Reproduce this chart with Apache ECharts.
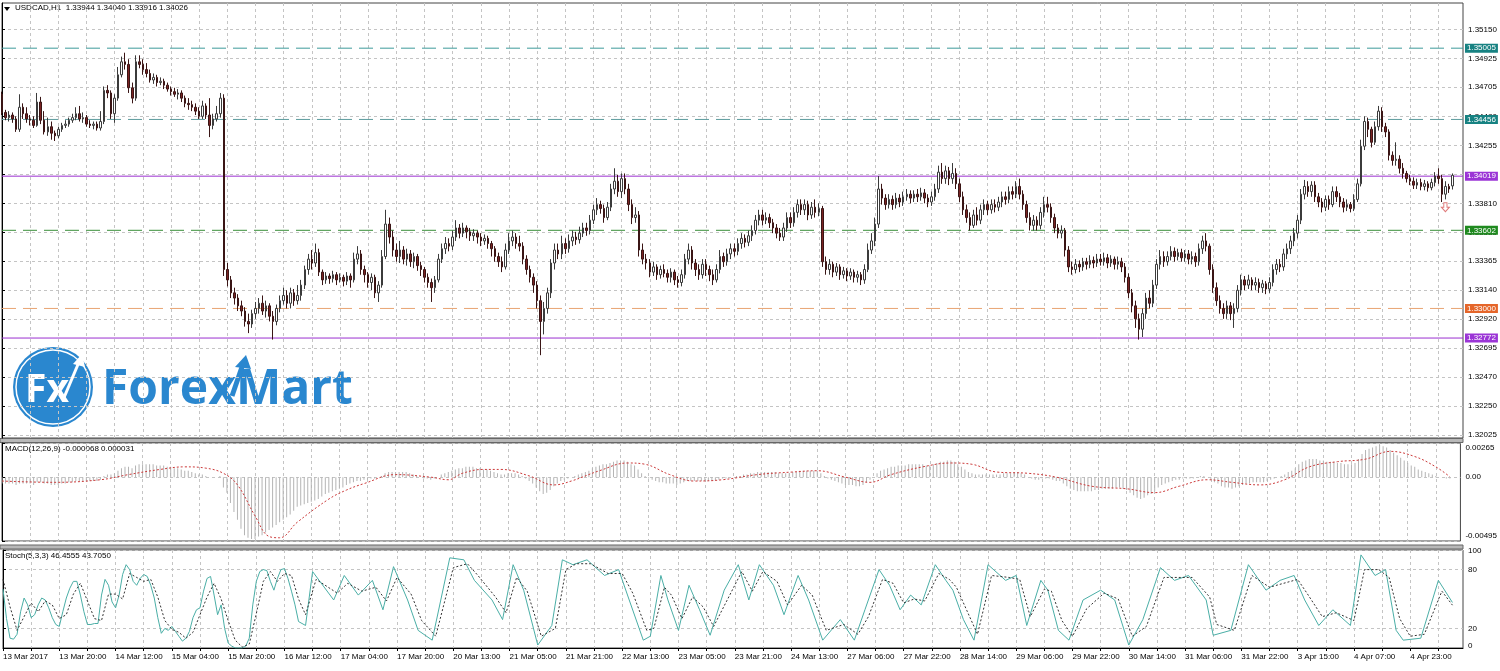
<!DOCTYPE html>
<html><head><meta charset="utf-8">
<script src="https://cdn.jsdelivr.net/npm/echarts@6/dist/echarts.min.js"></script>
<style>html,body{margin:0;padding:0;background:#fff}#c{width:1500px;height:671px}</style>
</head><body><div id="c"></div><script>
const tickLabels = ["13 Mar 2017","13 Mar 20:00","14 Mar 12:00","15 Mar 04:00","15 Mar 20:00","16 Mar 12:00","17 Mar 04:00","17 Mar 20:00","20 Mar 13:00","21 Mar 05:00","21 Mar 21:00","22 Mar 13:00","23 Mar 05:00","23 Mar 21:00","24 Mar 13:00","27 Mar 06:00","27 Mar 22:00","28 Mar 14:00","29 Mar 06:00","29 Mar 22:00","30 Mar 14:00","31 Mar 06:00","31 Mar 22:00","3 Apr 15:00","4 Apr 07:00","4 Apr 23:00"];
const priceTicks = [1.3515,1.34925,1.34705,1.3448,1.34255,1.3403,1.3381,1.33585,1.33365,1.3314,1.3292,1.32695,1.3247,1.3225,1.32025];
const macdTicks = [0.00265, 0, -0.00495];
const stochTicks = [100, 80, 20, 0];
const levelValues = [1.35005,1.34456,1.34019,1.33602,1.33000,1.32772];
const titleQuote = "USDCAD,H1  1.33944 1.34040 1.33916 1.34026";
const macdTitle = "MACD(12,26,9) -0.000068 0.000031";
const stochTitle = "Stoch(5,3,3) 46.4555 43.7050";
// [open, high, low, close] per H1 bar
const ohlc = [
[1.3465,1.3467,1.3449,1.3451],[1.3451,1.3453,1.3445,1.3447],[1.3447,1.3452,1.3444,1.3449],[1.3449,1.3451,1.3443,1.3446],[1.3446,1.3448,1.3436,1.3438],
[1.3438,1.3465,1.3436,1.3455],[1.3455,1.3458,1.3446,1.3450],[1.3450,1.3455,1.3443,1.3446],[1.3446,1.3449,1.3441,1.3445],[1.3445,1.3448,1.3439,1.3441],
[1.3441,1.3466,1.3440,1.3459],[1.3459,1.3463,1.3442,1.3445],[1.3445,1.3452,1.3434,1.3436],[1.3436,1.3447,1.3433,1.3440],[1.3440,1.3444,1.3430,1.3435],
[1.3435,1.3437,1.3429,1.3433],[1.3433,1.3440,1.3431,1.3438],[1.3438,1.3443,1.3436,1.3441],[1.3441,1.3445,1.3439,1.3442],[1.3442,1.3447,1.3440,1.3445],
[1.3445,1.3450,1.3443,1.3447],[1.3447,1.3455,1.3445,1.3450],[1.3450,1.3456,1.3444,1.3446],[1.3446,1.3451,1.3443,1.3447],[1.3447,1.3449,1.3440,1.3442],
[1.3442,1.3445,1.3439,1.3441],[1.3441,1.3444,1.3438,1.3442],[1.3442,1.3444,1.3437,1.3439],[1.3439,1.3452,1.3437,1.3444],[1.3444,1.3471,1.3442,1.3468],
[1.3468,1.3472,1.3462,1.3466],[1.3466,1.3468,1.3446,1.3450],[1.3450,1.3465,1.3443,1.3462],[1.3462,1.3486,1.3460,1.3480],[1.3480,1.3494,1.3478,1.3490],
[1.3490,1.3497,1.3484,1.3488],[1.3488,1.3492,1.3466,1.3470],[1.3470,1.3474,1.3458,1.3462],[1.3462,1.3495,1.3460,1.3490],[1.3490,1.3495,1.3485,1.3488],
[1.3488,1.3492,1.3480,1.3484],[1.3484,1.3489,1.3478,1.3481],[1.3481,1.3484,1.3474,1.3476],[1.3476,1.3481,1.3473,1.3478],[1.3478,1.3480,1.3471,1.3474],
[1.3474,1.3478,1.3472,1.3475],[1.3475,1.3477,1.3469,1.3472],[1.3472,1.3474,1.3467,1.3469],[1.3469,1.3471,1.3464,1.3467],[1.3467,1.3470,1.3463,1.3465],
[1.3465,1.3469,1.3461,1.3466],[1.3466,1.3468,1.3459,1.3462],[1.3462,1.3464,1.3455,1.3458],[1.3458,1.3462,1.3453,1.3457],[1.3457,1.3460,1.3452,1.3455],
[1.3455,1.3458,1.3449,1.3452],[1.3452,1.3455,1.3446,1.3448],[1.3448,1.3460,1.3446,1.3456],[1.3456,1.3458,1.3446,1.3449],[1.3449,1.3462,1.3432,1.3441],
[1.3441,1.3450,1.3438,1.3446],[1.3446,1.3456,1.3444,1.3450],[1.3450,1.3466,1.3447,1.3462],[1.3462,1.3465,1.3325,1.3330],[1.3330,1.3335,1.3317,1.3322],
[1.3322,1.3325,1.3308,1.3312],[1.3312,1.3316,1.3303,1.3308],[1.3308,1.3311,1.3298,1.3302],[1.3302,1.3306,1.3294,1.3298],[1.3298,1.3301,1.3286,1.3290],
[1.3290,1.3296,1.3281,1.3288],[1.3288,1.3299,1.3285,1.3296],[1.3296,1.3305,1.3292,1.3300],[1.3300,1.3308,1.3296,1.3304],[1.3304,1.3310,1.3295,1.3298],
[1.3298,1.3306,1.3293,1.3302],[1.3302,1.3304,1.3290,1.3294],[1.3294,1.3298,1.3276,1.3290],[1.3290,1.3303,1.3287,1.3300],[1.3300,1.3310,1.3297,1.3306],
[1.3306,1.3316,1.3303,1.3310],[1.3310,1.3314,1.3300,1.3304],[1.3304,1.3316,1.3300,1.3312],[1.3312,1.3315,1.3302,1.3306],[1.3306,1.3318,1.3303,1.3310],
[1.3310,1.3322,1.3306,1.3318],[1.3318,1.3333,1.3315,1.3330],[1.3330,1.3342,1.3326,1.3338],[1.3338,1.3345,1.3330,1.3335],[1.3335,1.3350,1.3332,1.3343],
[1.3343,1.3346,1.3325,1.3328],[1.3328,1.3330,1.3318,1.3322],[1.3322,1.3328,1.3319,1.3325],[1.3325,1.3327,1.3319,1.3323],[1.3323,1.3329,1.3320,1.3326],
[1.3326,1.3328,1.3318,1.3322],[1.3322,1.3327,1.3320,1.3324],[1.3324,1.3326,1.3317,1.3321],[1.3321,1.3328,1.3318,1.3325],[1.3325,1.3327,1.3316,1.3322],
[1.3322,1.3343,1.3320,1.3338],[1.3338,1.3348,1.3334,1.3342],[1.3342,1.3345,1.3326,1.3330],[1.3330,1.3333,1.3320,1.3326],[1.3326,1.3328,1.3316,1.3320],
[1.3320,1.3327,1.3314,1.3324],[1.3324,1.3326,1.3308,1.3312],[1.3312,1.3321,1.3305,1.3318],[1.3318,1.3345,1.3316,1.3340],[1.3340,1.3376,1.3338,1.3365],
[1.3365,1.3370,1.3350,1.3355],[1.3355,1.3360,1.3340,1.3345],[1.3345,1.3350,1.3336,1.3340],[1.3340,1.3352,1.3335,1.3345],[1.3345,1.3348,1.3334,1.3338],
[1.3338,1.3346,1.3333,1.3342],[1.3342,1.3345,1.3332,1.3336],[1.3336,1.3343,1.3331,1.3340],[1.3340,1.3342,1.3329,1.3333],[1.3333,1.3336,1.3325,1.3330],
[1.3330,1.3332,1.3320,1.3324],[1.3324,1.3327,1.3316,1.3320],[1.3320,1.3323,1.3305,1.3316],[1.3316,1.3325,1.3312,1.3322],[1.3322,1.3342,1.3320,1.3338],
[1.3338,1.3350,1.3335,1.3346],[1.3346,1.3355,1.3342,1.3350],[1.3350,1.3354,1.3344,1.3348],[1.3348,1.3360,1.3345,1.3355],[1.3355,1.3368,1.3352,1.3362],
[1.3362,1.3365,1.3354,1.3358],[1.3358,1.3366,1.3355,1.3362],[1.3362,1.3364,1.3354,1.3359],[1.3359,1.3362,1.3352,1.3356],[1.3356,1.3361,1.3352,1.3358],
[1.3358,1.3360,1.3350,1.3355],[1.3355,1.3358,1.3348,1.3352],[1.3352,1.3357,1.3349,1.3354],[1.3354,1.3356,1.3346,1.3350],[1.3350,1.3352,1.3340,1.3346],
[1.3346,1.3348,1.3336,1.3340],[1.3340,1.3343,1.3332,1.3336],[1.3336,1.3340,1.3328,1.3332],[1.3332,1.3350,1.3330,1.3345],[1.3345,1.3358,1.3342,1.3352],
[1.3352,1.3360,1.3348,1.3355],[1.3355,1.3358,1.3346,1.3350],[1.3350,1.3356,1.3344,1.3348],[1.3348,1.3351,1.3334,1.3338],[1.3338,1.3341,1.3326,1.3330],
[1.3330,1.3333,1.3320,1.3324],[1.3324,1.3327,1.3312,1.3318],[1.3318,1.3321,1.3300,1.3306],[1.3306,1.3310,1.3264,1.3290],[1.3290,1.3305,1.3280,1.3300],
[1.3300,1.3316,1.3296,1.3312],[1.3312,1.3338,1.3308,1.3335],[1.3335,1.3350,1.3330,1.3345],[1.3345,1.3350,1.3338,1.3342],[1.3342,1.3356,1.3338,1.3350],
[1.3350,1.3354,1.3342,1.3346],[1.3346,1.3357,1.3343,1.3352],[1.3352,1.3360,1.3348,1.3355],[1.3355,1.3359,1.3349,1.3353],[1.3353,1.3363,1.3350,1.3358],
[1.3358,1.3366,1.3355,1.3362],[1.3362,1.3366,1.3356,1.3360],[1.3360,1.3372,1.3357,1.3368],[1.3368,1.3380,1.3365,1.3376],[1.3376,1.3385,1.3372,1.3380],
[1.3380,1.3383,1.3373,1.3377],[1.3377,1.3380,1.3366,1.3370],[1.3370,1.3382,1.3368,1.3378],[1.3378,1.3396,1.3375,1.3392],[1.3392,1.3408,1.3388,1.3398],
[1.3398,1.3403,1.3386,1.3390],[1.3390,1.3404,1.3385,1.3400],[1.3400,1.3404,1.3388,1.3392],[1.3392,1.3396,1.3375,1.3380],[1.3380,1.3384,1.3365,1.3370],
[1.3370,1.3378,1.3366,1.3372],[1.3372,1.3375,1.3340,1.3345],[1.3345,1.3350,1.3334,1.3338],[1.3338,1.3342,1.3330,1.3335],[1.3335,1.3338,1.3324,1.3328],
[1.3328,1.3336,1.3325,1.3332],[1.3332,1.3334,1.3322,1.3326],[1.3326,1.3333,1.3323,1.3330],[1.3330,1.3334,1.3324,1.3327],[1.3327,1.3330,1.3320,1.3324],
[1.3324,1.3331,1.3320,1.3328],[1.3328,1.3330,1.3318,1.3322],[1.3322,1.3325,1.3316,1.3320],[1.3320,1.3330,1.3317,1.3326],[1.3326,1.3342,1.3323,1.3338],
[1.3338,1.3350,1.3334,1.3345],[1.3345,1.3348,1.3330,1.3335],[1.3335,1.3338,1.3325,1.3330],[1.3330,1.3334,1.3322,1.3326],[1.3326,1.3338,1.3323,1.3334],
[1.3334,1.3338,1.3325,1.3330],[1.3330,1.3333,1.3321,1.3326],[1.3326,1.3330,1.3318,1.3322],[1.3322,1.3334,1.3320,1.3330],[1.3330,1.3345,1.3327,1.3340],
[1.3340,1.3343,1.3332,1.3336],[1.3336,1.3346,1.3333,1.3342],[1.3342,1.3350,1.3338,1.3346],[1.3346,1.3350,1.3340,1.3344],[1.3344,1.3354,1.3341,1.3350],
[1.3350,1.3358,1.3346,1.3354],[1.3354,1.3357,1.3347,1.3351],[1.3351,1.3360,1.3348,1.3356],[1.3356,1.3364,1.3352,1.3360],[1.3360,1.3372,1.3357,1.3368],
[1.3368,1.3376,1.3364,1.3372],[1.3372,1.3376,1.3364,1.3368],[1.3368,1.3374,1.3365,1.3370],[1.3370,1.3373,1.3362,1.3366],[1.3366,1.3369,1.3358,1.3362],
[1.3362,1.3365,1.3354,1.3358],[1.3358,1.3362,1.3352,1.3355],[1.3355,1.3366,1.3352,1.3362],[1.3362,1.3374,1.3359,1.3370],[1.3370,1.3374,1.3362,1.3366],
[1.3366,1.3378,1.3363,1.3374],[1.3374,1.3384,1.3370,1.3380],[1.3380,1.3384,1.3372,1.3376],[1.3376,1.3384,1.3372,1.3380],[1.3380,1.3383,1.3368,1.3372],
[1.3372,1.3382,1.3369,1.3378],[1.3378,1.3384,1.3370,1.3374],[1.3374,1.3381,1.3371,1.3377],[1.3377,1.3379,1.3332,1.3336],[1.3336,1.3340,1.3326,1.3330],
[1.3330,1.3338,1.3326,1.3334],[1.3334,1.3336,1.3324,1.3328],[1.3328,1.3335,1.3325,1.3332],[1.3332,1.3334,1.3322,1.3326],[1.3326,1.3332,1.3323,1.3329],
[1.3329,1.3331,1.3321,1.3325],[1.3325,1.3331,1.3322,1.3328],[1.3328,1.3330,1.3320,1.3324],[1.3324,1.3329,1.3320,1.3326],[1.3326,1.3328,1.3318,1.3322],
[1.3322,1.3334,1.3319,1.3330],[1.3330,1.3350,1.3328,1.3345],[1.3345,1.3358,1.3342,1.3352],[1.3352,1.3370,1.3348,1.3365],[1.3365,1.3402,1.3362,1.3392],
[1.3392,1.3396,1.3380,1.3385],[1.3385,1.3388,1.3376,1.3380],[1.3380,1.3388,1.3377,1.3384],[1.3384,1.3387,1.3376,1.3380],[1.3380,1.3389,1.3377,1.3385],
[1.3385,1.3388,1.3378,1.3382],[1.3382,1.3390,1.3379,1.3386],[1.3386,1.3392,1.3383,1.3388],[1.3388,1.3391,1.3381,1.3385],[1.3385,1.3391,1.3382,1.3388],
[1.3388,1.3392,1.3382,1.3386],[1.3386,1.3393,1.3383,1.3389],[1.3389,1.3392,1.3381,1.3385],[1.3385,1.3388,1.3378,1.3382],[1.3382,1.3390,1.3379,1.3386],
[1.3386,1.3396,1.3383,1.3392],[1.3392,1.3410,1.3389,1.3405],[1.3405,1.3412,1.3396,1.3400],[1.3400,1.3410,1.3396,1.3406],[1.3406,1.3409,1.3395,1.3400],
[1.3400,1.3412,1.3396,1.3404],[1.3404,1.3408,1.3392,1.3396],[1.3396,1.3400,1.3382,1.3386],[1.3386,1.3390,1.3372,1.3376],[1.3376,1.3380,1.3366,1.3370],
[1.3370,1.3374,1.3360,1.3364],[1.3364,1.3376,1.3362,1.3372],[1.3372,1.3378,1.3364,1.3368],[1.3368,1.3380,1.3365,1.3376],[1.3376,1.3384,1.3372,1.3380],
[1.3380,1.3383,1.3372,1.3376],[1.3376,1.3384,1.3373,1.3380],[1.3380,1.3384,1.3374,1.3378],[1.3378,1.3386,1.3375,1.3382],[1.3382,1.3390,1.3378,1.3386],
[1.3386,1.3390,1.3380,1.3384],[1.3384,1.3394,1.3381,1.3390],[1.3390,1.3394,1.3384,1.3388],[1.3388,1.3398,1.3385,1.3394],[1.3394,1.3400,1.3384,1.3388],
[1.3388,1.3391,1.3376,1.3380],[1.3380,1.3383,1.3366,1.3370],[1.3370,1.3374,1.3360,1.3364],[1.3364,1.3372,1.3360,1.3368],[1.3368,1.3371,1.3360,1.3364],
[1.3364,1.3378,1.3361,1.3374],[1.3374,1.3386,1.3370,1.3380],[1.3380,1.3386,1.3374,1.3378],[1.3378,1.3381,1.3366,1.3370],[1.3370,1.3373,1.3358,1.3362],
[1.3362,1.3365,1.3354,1.3358],[1.3358,1.3364,1.3354,1.3360],[1.3360,1.3362,1.3340,1.3345],[1.3345,1.3348,1.3328,1.3332],[1.3332,1.3336,1.3326,1.3330],
[1.3330,1.3338,1.3327,1.3334],[1.3334,1.3337,1.3328,1.3332],[1.3332,1.3339,1.3329,1.3336],[1.3336,1.3339,1.3330,1.3334],[1.3334,1.3341,1.3331,1.3337],
[1.3337,1.3340,1.3331,1.3335],[1.3335,1.3342,1.3332,1.3338],[1.3338,1.3342,1.3333,1.3336],[1.3336,1.3343,1.3333,1.3339],[1.3339,1.3342,1.3331,1.3335],
[1.3335,1.3341,1.3332,1.3338],[1.3338,1.3340,1.3330,1.3334],[1.3334,1.3340,1.3330,1.3336],[1.3336,1.3339,1.3328,1.3332],[1.3332,1.3335,1.3320,1.3324],
[1.3324,1.3327,1.3308,1.3312],[1.3312,1.3315,1.3297,1.3302],[1.3302,1.3306,1.3285,1.3292],[1.3292,1.3296,1.3276,1.3284],[1.3284,1.3300,1.3278,1.3296],
[1.3296,1.3312,1.3292,1.3308],[1.3308,1.3314,1.3300,1.3304],[1.3304,1.3322,1.3301,1.3318],[1.3318,1.3338,1.3315,1.3334],[1.3334,1.3345,1.3330,1.3340],
[1.3340,1.3344,1.3332,1.3336],[1.3336,1.3344,1.3333,1.3340],[1.3340,1.3348,1.3337,1.3344],[1.3344,1.3347,1.3336,1.3340],[1.3340,1.3346,1.3337,1.3343],
[1.3343,1.3346,1.3336,1.3339],[1.3339,1.3345,1.3336,1.3342],[1.3342,1.3345,1.3334,1.3338],[1.3338,1.3344,1.3334,1.3340],[1.3340,1.3343,1.3332,1.3336],
[1.3336,1.3350,1.3333,1.3346],[1.3346,1.3356,1.3342,1.3352],[1.3352,1.3358,1.3344,1.3348],[1.3348,1.3350,1.3326,1.3330],[1.3330,1.3334,1.3312,1.3316],
[1.3316,1.3320,1.3302,1.3306],[1.3306,1.3310,1.3296,1.3300],[1.3300,1.3304,1.3292,1.3296],[1.3296,1.3306,1.3292,1.3302],[1.3302,1.3305,1.3291,1.3296],
[1.3296,1.3304,1.3285,1.3300],[1.3300,1.3318,1.3297,1.3314],[1.3314,1.3326,1.3310,1.3322],[1.3322,1.3325,1.3314,1.3318],[1.3318,1.3326,1.3315,1.3322],
[1.3322,1.3324,1.3314,1.3318],[1.3318,1.3324,1.3314,1.3320],[1.3320,1.3323,1.3312,1.3316],[1.3316,1.3322,1.3312,1.3319],[1.3319,1.3321,1.3311,1.3315],
[1.3315,1.3324,1.3312,1.3320],[1.3320,1.3334,1.3317,1.3330],[1.3330,1.3338,1.3326,1.3334],[1.3334,1.3338,1.3328,1.3332],[1.3332,1.3346,1.3329,1.3342],
[1.3342,1.3350,1.3338,1.3346],[1.3346,1.3356,1.3342,1.3352],[1.3352,1.3362,1.3348,1.3358],[1.3358,1.3372,1.3354,1.3368],[1.3368,1.3392,1.3365,1.3388],
[1.3388,1.3399,1.3384,1.3394],[1.3394,1.3398,1.3386,1.3390],[1.3390,1.3398,1.3386,1.3395],[1.3395,1.3398,1.3382,1.3386],[1.3386,1.3389,1.3378,1.3382],
[1.3382,1.3385,1.3374,1.3378],[1.3378,1.3387,1.3375,1.3384],[1.3384,1.3387,1.3376,1.3380],[1.3380,1.3394,1.3378,1.3390],[1.3390,1.3394,1.3382,1.3386],
[1.3386,1.3389,1.3378,1.3382],[1.3382,1.3385,1.3374,1.3378],[1.3378,1.3384,1.3375,1.3380],[1.3380,1.3382,1.3374,1.3377],[1.3377,1.3388,1.3375,1.3384],
[1.3384,1.3400,1.3382,1.3396],[1.3396,1.3430,1.3394,1.3425],[1.3425,1.3448,1.3422,1.3444],[1.3444,1.3447,1.3432,1.3438],[1.3438,1.3440,1.3424,1.3428],
[1.3428,1.3444,1.3426,1.3440],[1.3440,1.3456,1.3437,1.3452],[1.3452,1.3455,1.3436,1.3440],[1.3440,1.3443,1.3432,1.3436],[1.3436,1.3438,1.3414,1.3418],
[1.3418,1.3421,1.3410,1.3414],[1.3414,1.3428,1.3410,1.3415],[1.3415,1.3418,1.3404,1.3408],[1.3408,1.3412,1.3400,1.3404],[1.3404,1.3406,1.3397,1.3400],
[1.3400,1.3403,1.3395,1.3398],[1.3398,1.3401,1.3392,1.3395],[1.3395,1.3400,1.3392,1.3397],[1.3397,1.3400,1.3391,1.3394],[1.3394,1.3399,1.3391,1.3396],
[1.3396,1.3398,1.3390,1.3393],[1.3393,1.3400,1.3391,1.3397],[1.3397,1.3405,1.3394,1.3402],[1.3402,1.3408,1.3396,1.3400],[1.3400,1.3403,1.3382,1.3388],
[1.3388,1.3398,1.3384,1.3394],[1.3394,1.3396,1.3389,1.3392],[1.33944,1.34040,1.33916,1.34026]
];
// MACD main line (histogram), one value per bar
const macdMain = [
-0.0005,-0.0005,-0.0005,-0.0005,-0.0006,-0.0005,-0.0005,-0.0005,-0.0005,-0.0006,
-0.0004,-0.0004,-0.0005,-0.0005,-0.0006,-0.0006,-0.0006,-0.0005,-0.0005,-0.0004,
-0.0004,-0.0003,-0.0003,-0.0003,-0.0003,-0.0003,-0.0003,-0.0003,-0.0002,
0.0001,0.0002,0.0002,0.0003,0.0005,
0.0007,0.0008,0.0008,0.0007,0.0009,0.0010,0.0010,0.0010,0.0010,0.0010,0.0009,0.0009,
0.0009,0.0008,0.0008,0.0007,0.0007,0.0006,0.0005,0.0005,0.0004,0.0003,
0.0002,0.0002,0.0001,0.0000,0.0000,0.0000,0.0001,
-0.0008,
-0.0012,-0.0020,-0.0027,-0.0033,-0.0040,-0.0045,-0.0047,-0.0048,-0.0048,-0.0046,-0.0045,-0.0043,
-0.0041,-0.0039,-0.0037,-0.0035,-0.0033,-0.0031,-0.0029,-0.0026,-0.0023,-0.0022,-0.0021,-0.0020,-0.0019,-0.0018,-0.0017,
-0.0015,-0.0013,-0.0012,-0.0011,-0.0010,-0.0009,-0.0008,-0.0006,-0.0005,-0.0004,-0.0003,-0.0003,-0.0002,-0.0002,-0.0001,-0.0001,0.0000,0.0001,0.0003,0.0004,
0.0004,0.0004,0.0004,0.0004,0.0004,0.0003,0.0002,0.0001,0.0000,-0.0001,-0.0001,-0.0002,-0.0001,0.0000,0.0002,
0.0003,0.0004,0.0005,0.0006,0.0007,0.0007,0.0008,0.0008,0.0008,0.0007,0.0007,0.0006,0.0006,0.0005,0.0004,
0.0003,0.0002,0.0002,0.0003,0.0003,0.0003,0.0002,0.0001,-0.0001,-0.0003,-0.0005,-0.0008,-0.0011,-0.0013,-0.0012,-0.0010,-0.0007,-0.0005,-0.0003,-0.0002,
-0.0001,0.0000,0.0001,0.0002,0.0003,0.0004,0.0005,0.0007,0.0008,0.0009,0.0010,0.0010,0.0011,0.0012,0.0013,0.0013,0.0013,0.0012,0.0010,0.0009,0.0006,
0.0003,0.0001,-0.0001,-0.0002,-0.0003,-0.0004,-0.0004,-0.0005,-0.0005,-0.0005,-0.0006,-0.0005,-0.0004,-0.0003,-0.0003,-0.0003,-0.0003,-0.0003,-0.0003,
-0.0003,-0.0003,-0.0003,-0.0002,-0.0001,-0.0001,0.0000,0.0000,0.0001,0.0001,0.0002,0.0002,0.0003,0.0003,0.0004,0.0004,0.0004,0.0004,0.0004,0.0004,0.0003,0.0003,0.0003,0.0003,0.0004,0.0004,0.0005,0.0005,0.0005,0.0005,0.0005,0.0005,
0.0003,0.0001,-0.0001,-0.0002,-0.0003,-0.0004,-0.0005,-0.0006,-0.0006,-0.0006,-0.0007,-0.0007,-0.0006,-0.0004,-0.0002,0.0000,
0.0003,0.0005,0.0006,0.0007,0.0008,0.0008,0.0009,0.0009,0.0009,0.0010,0.0010,0.0010,0.0010,0.0010,0.0009,0.0009,0.0010,0.0011,0.0012,0.0012,0.0013,0.0013,
0.0012,0.0010,0.0008,0.0006,0.0004,0.0003,0.0002,0.0002,0.0002,0.0002,0.0002,0.0002,0.0002,0.0002,0.0003,0.0003,0.0003,0.0004,0.0004,0.0003,0.0002,0.0000,-0.0001,-0.0002,-0.0002,-0.0001,-0.0001,-0.0001,-0.0002,-0.0003,-0.0003,
-0.0005,-0.0007,-0.0009,-0.0010,-0.0011,-0.0011,-0.0011,-0.0011,-0.0011,-0.0010,-0.0010,-0.0009,-0.0009,-0.0009,-0.0009,-0.0008,-0.0008,-0.0009,-0.0010,-0.0012,-0.0014,-0.0016,-0.0017,-0.0016,-0.0014,-0.0013,-0.0011,-0.0008,-0.0006,
-0.0005,-0.0004,-0.0003,-0.0002,-0.0002,-0.0001,-0.0001,-0.0001,-0.0001,0.0000,0.0001,0.0001,0.0000,-0.0002,-0.0004,-0.0005,-0.0007,-0.0008,-0.0008,-0.0009,-0.0008,-0.0007,-0.0006,-0.0005,-0.0005,-0.0004,-0.0004,-0.0004,-0.0004,-0.0003,
-0.0002,-0.0001,0.0000,0.0001,0.0002,0.0004,0.0005,0.0007,0.0010,0.0012,0.0013,0.0014,0.0014,0.0014,0.0013,0.0013,0.0012,0.0012,0.0012,0.0011,0.0011,0.0010,0.0010,0.0010,0.0011,
0.0014,0.0018,0.0021,0.0022,0.0023,0.0024,0.0025,0.0024,0.0023,0.0021,0.0019,0.0017,0.0015,0.0013,0.0011,0.0009,0.0008,0.0006,0.0005,0.0004,0.0003,0.0002,0.0001,0.0000,0.0000,-0.0001,-0.0001
];
// MACD signal line, [bar, value] at readable vertices
const macdSignal = [[0,-0.0003],[15,-0.0004],[28,-0.0002],[36,0.0002],[45,0.0006],[52,0.0008],[58,0.0007],[63,0.0003],[67,-0.0006],[72,-0.0030],[76,-0.0046],[79,-0.0047],[84,-0.0035],[93,-0.0017],[98,-0.0010],[103,-0.0005],[112,0.0002],[122,0.0000],[127,-0.0002],[131,0.0003],[137,0.0006],[142,0.0006],[150,0.0001],[157,-0.0006],[162,-0.0003],[170,0.0005],[178,0.0011],[183,0.0010],[190,0.0002],[197,-0.0003],[205,-0.0002],[215,0.0002],[225,0.0004],[232,0.0005],[240,0.0000],[247,-0.0004],[253,0.0002],[262,0.0008],[270,0.0011],[276,0.0010],[283,0.0004],[292,0.0003],[300,0.0000],[310,-0.0007],[320,-0.0009],[328,-0.0012],[335,-0.0007],[343,-0.0002],[350,-0.0004],[358,-0.0006],[365,-0.0002],[372,0.0008],[380,0.0012],[388,0.0014],[395,0.0020],[402,0.0016],[408,0.0008],[412,0.00003]];
// Stochastic %K and %D, [bar, value] at readable vertices
const stochMain = [[0,60],[1,30],[2,10],[3,9],[4,14],[5,37],[6,51],[7,44],[8,31],[9,34],[10,44],[11,51],[12,49],[13,41],[14,31],[15,24],[16,22],[17,37],[18,51],[19,61],[20,68],[21,68],[22,54],[23,37],[24,24],[25,24],[26,25],[27,25],[28,54],[29,70],[30,64],[31,47],[32,41],[33,54],[34,75],[35,85],[36,80],[37,68],[38,64],[39,71],[40,75],[41,73],[42,64],[43,51],[44,31],[45,15],[46,20],[47,18],[48,22],[49,17],[50,12],[51,7],[52,10],[53,17],[54,31],[55,39],[56,41],[57,58],[58,71],[59,73],[60,54],[61,34],[62,44],[63,20],[64,5],[65,2],[66,0],[67,0],[68,0],[69,2],[70,10],[71,44],[72,68],[73,78],[74,80],[75,79],[76,68],[77,59],[78,71],[79,80],[80,81],[81,71],[82,58],[83,44],[84,27],
[86,23],[88,78],[94,49],[97,74],[101,54],[105,69],[108,39],[111,83],[115,49],[118,18],[122,8],[127,92],[131,90],[134,69],[139,49],[142,29],[145,85],[148,59],[152,3],[156,23],[159,90],[162,85],[166,90],[171,74],[175,80],[178,49],[182,8],[184,12],[187,74],[189,49],[192,18],[195,64],[198,39],[201,13],[205,59],[209,85],[212,49],[215,85],[219,64],[222,34],[226,74],[229,49],[233,8],[238,29],[242,8],[245,39],[249,80],[252,64],[255,39],[258,54],[261,44],[265,85],[268,69],[270,59],[273,29],[276,8],[280,85],[285,69],[288,74],[291,23],[295,69],[297,59],[300,18],[303,8],[307,49],[312,59],[316,49],[320,3],[324,29],[329,82],[333,69],[337,74],[342,49],[344,13],[349,18],[354,85],[359,59],[363,69],[367,74],[370,49],[374,23],[378,39],[383,23],[386,95],[390,74],[393,80],[396,18],[398,8],[403,10],[408,69],[412,46.4555]];
const stochSignal = [[0,70],[2,42],[4,18],[6,32],[8,46],[10,37],[12,48],[14,44],[16,30],[18,34],[20,55],[22,66],[24,48],[26,30],[28,28],[30,55],[32,55],[34,50],[36,76],[38,72],[40,68],[42,70],[44,52],[46,28],[48,19],[50,16],[52,10],[54,16],[56,34],[58,52],[60,66],[62,50],[64,28],[66,8],[68,1],[70,4],[72,35],[74,68],[76,78],[78,68],[80,76],[82,74],[84,50],
[86,34],[89,70],[95,56],[98,66],[102,58],[106,62],[109,48],[112,72],[116,55],[119,28],[123,12],[128,82],[132,86],[135,74],[140,52],[143,36],[146,72],[149,58],[153,12],[157,20],[160,80],[163,86],[167,86],[172,76],[176,76],[179,56],[183,18],[185,20],[188,62],[190,54],[193,30],[196,52],[199,42],[202,22],[206,50],[210,78],[213,58],[216,78],[220,68],[223,44],[227,64],[230,54],[234,18],[239,24],[243,14],[246,32],[250,70],[253,66],[256,46],[259,50],[262,48],[266,76],[269,70],[271,62],[274,38],[277,14],[281,74],[286,72],[289,70],[292,32],[296,60],[298,58],[301,28],[304,12],[308,40],[313,56],[317,50],[321,12],[325,22],[330,72],[334,72],[338,72],[343,52],[345,24],[350,18],[355,74],[360,62],[364,66],[368,70],[371,54],[375,32],[379,36],[384,28],[387,80],[391,80],[394,72],[397,30],[400,12],[404,14],[409,58],[412,43.705]];

const N = ohlc.length + 3;
const cats = ohlc.map((_, i) => String(i)).concat(['', '', '']);
const FONT = 'Liberation Sans, Arial, sans-serif';
const BLUE = '#2a87cf';
const gridLine = { show: true, interval: (i) => i % 8 === 0, lineStyle: { color: '#c4c4c4', type: [3, 3], width: 1 } };
const hLine = { show: true, lineStyle: { color: '#c4c4c4', type: [3, 3], width: 1 } };
const lineColors = ['#3e9a9a', '#5d9c9e', '#9b30d0', '#3a8f3a', '#e8a472', '#9b30d0'];
const lineTypes = [[14, 7], [14, 7], 'solid', [14, 7], [14, 7], 'solid'];
const tagColors = ['#178282', '#178282', '#9b35d6', '#1f8a1f', '#e5662a', '#9b35d6'];
const axisText = { fontSize: 8, color: '#000', fontFamily: FONT };

const chart = echarts.init(document.getElementById('c'), null, { renderer: 'canvas' });
const catAxis = (g) => ({ type: 'category', gridIndex: g, data: cats, boundaryGap: false,
  axisLine: { show: false }, axisTick: { show: false }, axisLabel: { show: false }, splitLine: gridLine });

const levelSeries = levelValues.map((v, k) => ({
  type: 'line', xAxisIndex: 5, yAxisIndex: 0, symbol: 'none', silent: true, z: 3,
  data: [[0, v], [N - 1, v]],
  lineStyle: { color: lineColors[k], type: lineTypes[k], width: 1 },
  endLabel: { show: true, formatter: v.toFixed(5), color: '#fff', backgroundColor: tagColors[k],
    padding: [1, 2, 0, 2], fontSize: 8, fontFamily: FONT, distance: 2 }
}));

chart.setOption({
  animation: false,
  backgroundColor: '#fff',
  grid: [
    { left: 2, right: 37, top: 3, height: 435, show: true, borderColor: '#444', borderWidth: 1 },
    { left: 2, right: 37, top: 443, height: 98, show: true, borderColor: '#444', borderWidth: 1 },
    { left: 2, right: 37, top: 550, height: 98, show: true, borderColor: '#444', borderWidth: 1 }
  ],
  xAxis: [
    catAxis(0), catAxis(1),
    { type: 'category', gridIndex: 2, data: cats, boundaryGap: false,
      axisLine: { show: true, lineStyle: { color: '#000' } },
      axisTick: { show: true, interval: (i) => i % 8 === 0, length: 3, lineStyle: { color: '#000' } },
      axisLabel: Object.assign({ interval: (i) => i % 16 === 0, formatter: (v, i) => tickLabels[i / 16] || '',
        align: 'left', margin: 5 }, axisText),
      splitLine: gridLine },
    { type: 'value', gridIndex: 1, min: 0, max: N - 1, show: false },
    { type: 'value', gridIndex: 2, min: 0, max: N - 1, show: false },
    { type: 'value', gridIndex: 0, min: 0, max: N - 1, show: false }
  ],
  yAxis: [
    { type: 'value', gridIndex: 0, position: 'right', min: 1.32002, max: 1.35353,
      axisLine: { show: true, lineStyle: { color: '#000' } },
      axisTick: { show: true, customValues: priceTicks, length: 3, lineStyle: { color: '#000' } },
      axisLabel: Object.assign({ customValues: priceTicks, formatter: (v) => v.toFixed(5), margin: 5 }, axisText),
      splitLine: hLine },
    { type: 'value', gridIndex: 1, position: 'right', min: -0.00495, max: 0.00265,
      axisLine: { show: true, lineStyle: { color: '#000' } },
      axisTick: { show: true, customValues: macdTicks, length: 3, lineStyle: { color: '#000' } },
      axisLabel: Object.assign({ customValues: macdTicks, margin: 5,
        formatter: (v) => v === 0 ? '0.00' : (v > 0 ? '{t|' + v.toFixed(5) + '}' : '{b|' + v.toFixed(5) + '}'),
        rich: { t: { padding: [10, 0, 0, 0], fontSize: 8, fontFamily: FONT, color: '#000' },
                b: { padding: [0, 0, 10, 0], fontSize: 8, fontFamily: FONT, color: '#000' } } }, axisText),
      splitLine: hLine },
    { type: 'value', gridIndex: 2, position: 'right', min: 0, max: 100,
      axisLine: { show: true, lineStyle: { color: '#000' } },
      axisTick: { show: true, customValues: stochTicks, length: 3, lineStyle: { color: '#000' } },
      axisLabel: Object.assign({ customValues: stochTicks, margin: 5,
        formatter: (v) => v === 100 ? '{t|100}' : (v === 0 ? '{b|0}' : String(v)),
        rich: { t: { padding: [2, 0, 0, 0], fontSize: 8, fontFamily: FONT, color: '#000' },
                b: { padding: [0, 0, 4, 0], fontSize: 8, fontFamily: FONT, color: '#000' } } }, axisText),
      splitLine: hLine }
  ],
  series: [
    { type: 'candlestick', xAxisIndex: 0, yAxisIndex: 0, barWidth: 2, z: 4,
      data: ohlc.map((r) => [r[0], r[3], r[2], r[1]]),
      itemStyle: { color: '#ffffff', color0: '#7a2323', borderColor: '#3b3b3b', borderColor0: '#3a1515', borderWidth: 1 },
      markPoint: { silent: true, animation: false,
        data: [{ coord: [410, 1.3378], symbol: 'path://M3,0 L7,0 L7,5 L10,5 L5,10 L0,5 L3,5 Z', symbolSize: [8, 9],
          itemStyle: { color: '#fff', borderColor: '#e07a7a', borderWidth: 1 }, label: { show: false } }] } },
    { type: 'bar', xAxisIndex: 1, yAxisIndex: 1, data: macdMain, barWidth: 1, itemStyle: { color: '#b4b4b4' } },
    { type: 'line', xAxisIndex: 3, yAxisIndex: 1, data: macdSignal, smooth: 0.4, symbol: 'none',
      lineStyle: { color: '#cc3a3a', width: 1, type: [2, 2] } },
    { type: 'line', xAxisIndex: 4, yAxisIndex: 2, data: stochMain, symbol: 'none',
      lineStyle: { color: '#4aaea6', width: 1 } },
    { type: 'line', xAxisIndex: 4, yAxisIndex: 2, data: stochSignal, symbol: 'none',
      lineStyle: { color: '#333', width: 1, type: [2, 2] } }
  ].concat(levelSeries),
  graphic: [
    { type: 'polygon', shape: { points: [[4, 7], [10, 7], [7, 11]] }, style: { fill: '#000' } },
    { type: 'text', x: 15, y: 4, style: { text: titleQuote, font: '8px ' + FONT, fill: '#000' } },
    { type: 'text', x: 5, y: 445, style: { text: macdTitle, font: '8px ' + FONT, fill: '#000' } },
    { type: 'text', x: 5, y: 552, style: { text: stochTitle, font: '8px ' + FONT, fill: '#000' } },
    { type: 'rect', shape: { x: 0, y: 438.5, width: 1463, height: 4 }, style: { fill: '#b8b8b8', stroke: '#666', lineWidth: 1 } },
    { type: 'rect', shape: { x: 0, y: 545, width: 1463, height: 4 }, style: { fill: '#b8b8b8', stroke: '#666', lineWidth: 1 } },
    { type: 'group', z: 10, children: [
      { type: 'circle', shape: { cx: 53, cy: 387, r: 40 }, style: { fill: BLUE } },
      { type: 'circle', shape: { cx: 53, cy: 387, r: 37 }, style: { fill: 'none', stroke: '#fff', lineWidth: 1.5 } },
      { type: 'text', x: 25, y: 391, style: { text: 'Fx', font: 'bold 39px "Open Sans"', fill: '#fff', verticalAlign: 'middle' } },
      { type: 'polyline', shape: { points: [[63, 400], [79, 362]] }, style: { stroke: '#fff', lineWidth: 3 } },
      { type: 'polygon', shape: { points: [[82, 354], [73, 364], [85, 367]] }, style: { fill: '#fff' } },
      { type: 'text', x: 102, y: 390, style: { text: 'ForexMart', font: 'bold 48px "Open Sans"', fill: BLUE, verticalAlign: 'middle' } },
      { type: 'polyline', shape: { points: [[232, 396], [243, 364]] }, style: { stroke: BLUE, lineWidth: 5 } },
      { type: 'polygon', shape: { points: [[246, 355], [235, 367], [251, 369]] }, style: { fill: BLUE } }
    ] }
  ]
});
</script></body></html>
